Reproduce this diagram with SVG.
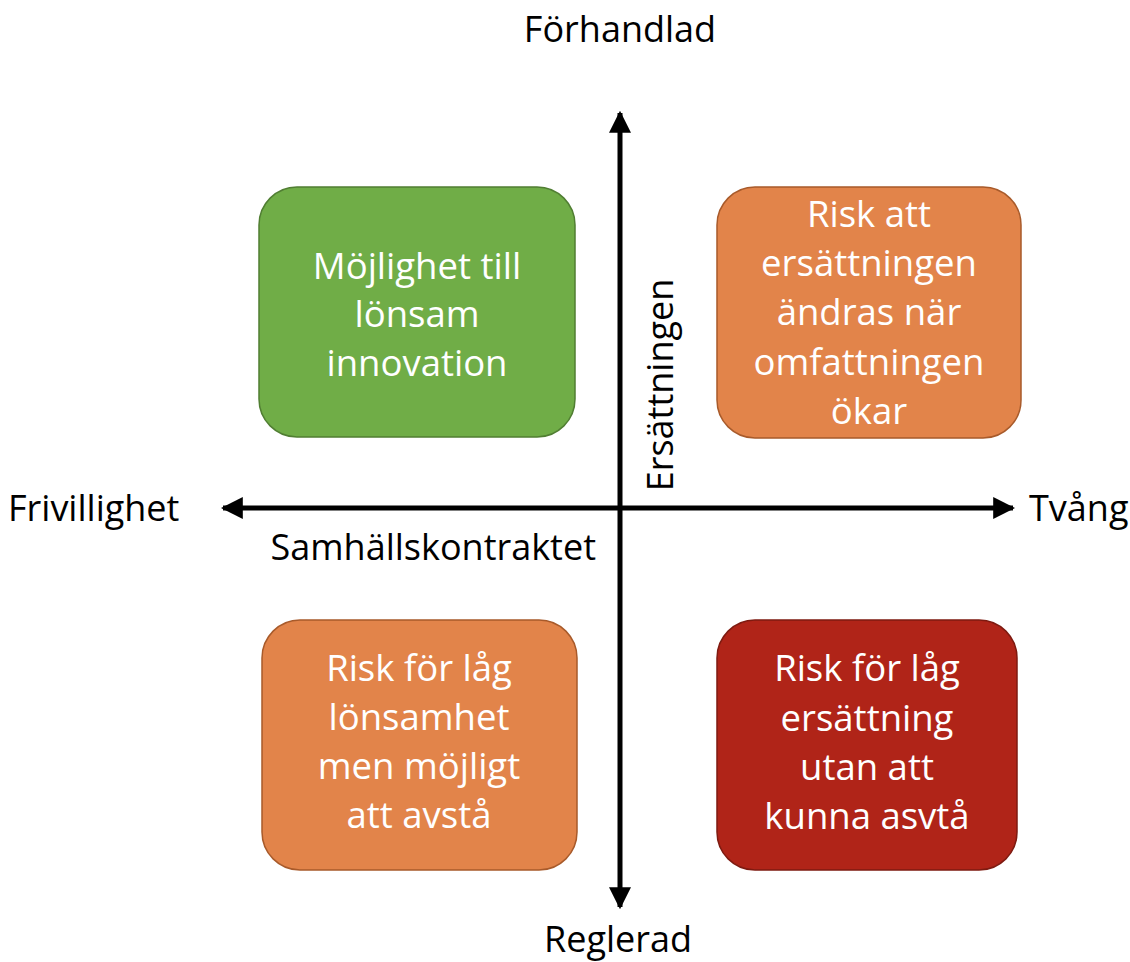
<svg xmlns="http://www.w3.org/2000/svg" width="1130" height="962" viewBox="0 0 1130 962">
<style>
.lbl{font-family:"Open Sans","Liberation Sans",sans-serif;font-size:36px;fill:#000;}
.bt{font-family:"Open Sans","Liberation Sans",sans-serif;font-size:36.5px;fill:#fff;text-anchor:middle;}
.ax{stroke:#000;stroke-width:5;fill:none;}
</style>
<defs>
<marker id="ah" viewBox="0 0 10 10" refX="9" refY="5" markerWidth="4.4" markerHeight="4.4" markerUnits="strokeWidth" orient="auto">
<path d="M0,0 L10,5 L0,10 z" fill="#000"/>
</marker>
</defs>
<rect width="1130" height="962" fill="#fff"/>
<g id="connectors">
<line class="ax" x1="620" y1="508" x2="620" y2="113" marker-end="url(#ah)"/>
<line class="ax" x1="620" y1="508" x2="620" y2="907" marker-end="url(#ah)"/>
<line class="ax" x1="620" y1="508" x2="223" y2="508" marker-end="url(#ah)"/>
<line class="ax" x1="620" y1="508" x2="1013" y2="508" marker-end="url(#ah)"/>
</g>
<g id="label-top"><text class="lbl" x="620" y="42" text-anchor="middle">Förhandlad</text></g>
<g id="label-bottom"><text class="lbl" x="618" y="952" text-anchor="middle">Reglerad</text></g>
<g id="label-left"><text class="lbl" x="8" y="521">Frivillighet</text></g>
<g id="label-right"><text class="lbl" x="1029" y="521">Tvång</text></g>
<g id="label-x"><text class="lbl" x="596" y="560" text-anchor="end">Samhällskontraktet</text></g>
<g id="label-y"><text class="lbl" transform="translate(673,385) rotate(-90)" text-anchor="middle">Ersättningen</text></g>
<g id="box-tl">
<rect x="259" y="187" width="316" height="250" rx="38" fill="#70AD47" stroke="#507E32" stroke-width="1.5"/>
<text class="bt" x="417" y="279">Möjlighet till</text>
<text class="bt" x="417" y="327">lönsam</text>
<text class="bt" x="417" y="376">innovation</text>
</g>
<g id="box-tr">
<rect x="717" y="187" width="304" height="251" rx="38" fill="#E2844A" stroke="#A85A2A" stroke-width="1.5"/>
<text class="bt" x="869" y="227">Risk att</text>
<text class="bt" x="869" y="276">ersättningen</text>
<text class="bt" x="869" y="325">ändras när</text>
<text class="bt" x="869" y="375">omfattningen</text>
<text class="bt" x="869" y="424">ökar</text>
</g>
<g id="box-bl">
<rect x="262" y="620" width="315" height="250" rx="38" fill="#E2844A" stroke="#A85A2A" stroke-width="1.5"/>
<text class="bt" x="419" y="681">Risk för låg</text>
<text class="bt" x="419" y="730">lönsamhet</text>
<text class="bt" x="419" y="779">men möjligt</text>
<text class="bt" x="419" y="828">att avstå</text>
</g>
<g id="box-br">
<rect x="717" y="620" width="300" height="250" rx="38" fill="#B02418" stroke="#7E1A10" stroke-width="1.5"/>
<text class="bt" x="867" y="681">Risk för låg</text>
<text class="bt" x="867" y="731">ersättning</text>
<text class="bt" x="867" y="780">utan att</text>
<text class="bt" x="867" y="829">kunna asvtå</text>
</g>
</svg>
